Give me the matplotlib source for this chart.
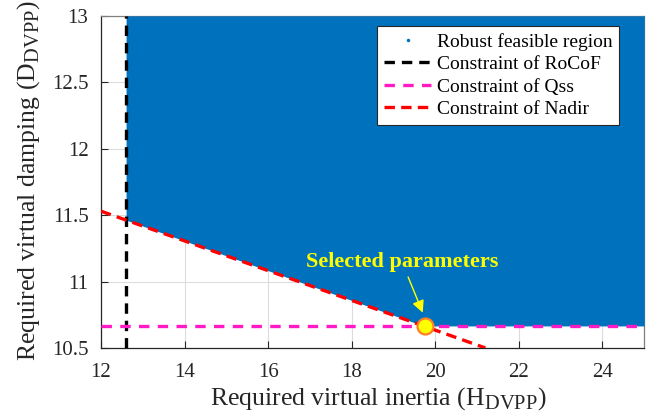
import numpy as np
import matplotlib
matplotlib.use("Agg")
import matplotlib.pyplot as plt
import matplotlib._mathtext as mtext
from matplotlib.lines import Line2D

plt.rcParams['font.family'] = ['Liberation Serif', 'DejaVu Serif']
plt.rcParams['mathtext.fontset'] = 'custom'
plt.rcParams['mathtext.rm'] = 'Liberation Serif'
plt.rcParams['lines.scale_dashes'] = False
# larger, lower subscripts, like the original
mtext.SHRINK_FACTOR = 0.8
mtext.FontConstantsBase.subdrop = 1.0

# constraint data
rocof_h = 12.6                 # RoCoF: minimum inertia
qss_d = 10.666                 # Qss: minimum damping
nadir_h = [12.0, 21.2]         # Nadir line end points (inertia)
nadir_d = [11.53, 10.5]        # Nadir line end points (damping)
sel_h, sel_d = 19.76, 10.666   # selected parameters

h_range = [12, 25]
d_range = [10.5, 13]

# boundary of the robust feasible region
slope = (nadir_d[1] - nadir_d[0]) / (nadir_h[1] - nadir_h[0])
h_feas = np.linspace(rocof_h, h_range[1], 400)
d_low = np.maximum(qss_d, nadir_d[0] + slope * (h_feas - nadir_h[0]))

fig = plt.figure(figsize=(6.58, 4.19), dpi=100)
ax = fig.add_axes([0.1535, 0.1695, 0.8255, 0.7925])

blue = '#0072BD'
ax.fill_between(h_feas, d_low, d_range[1], color=blue, lw=0, zorder=1)

ax.plot([rocof_h, rocof_h], d_range, color='black', lw=2.4, dashes=(7.5, 5), zorder=3)
ax.plot(h_range, [qss_d, qss_d], color='#FF1AC6', lw=2.4, dashes=(7.5, 6), zorder=3)
ax.plot(nadir_h, nadir_d, color='#FF0000', lw=2.4, dashes=(7.5, 4.5), zorder=3)

ax.plot(sel_h, sel_d, 'o', ms=11.5, mfc='#FFFF00', mec='#FF7F27', mew=1.6, zorder=5)
ax.annotate('Selected parameters', xy=(sel_h - 0.06, sel_d + 0.1),
            xytext=(19.2, 11.15), color='#FFFF00', fontsize=16, fontweight='bold',
            ha='center', va='center', zorder=6,
            arrowprops=dict(arrowstyle='-|>', color='#FFFF00', lw=1.0,
                            mutation_scale=18, shrinkA=2, shrinkB=0))

ax.set_xlim(h_range)
ax.set_ylim(d_range)
ax.set_xticks(np.arange(12, 25, 2))
ax.set_yticks([10.5, 11, 11.5, 12, 12.5, 13])
ax.set_yticklabels(['10.5', '11', '11.5', '12', '12.5', '13'])
ax.set_axisbelow(True)
ax.grid(True, color='#DCDCDC', lw=0.8)
ax.tick_params(direction='in', length=5, width=0.8, color='#262626',
               labelcolor='#262626', labelsize=15, top=False, right=False)
ax.tick_params(axis='x', pad=11)
ax.tick_params(axis='y', pad=9)
for s in ax.spines.values():
    s.set_color('#808080')
    s.set_linewidth(0.9)
    s.set_zorder(0.6)
ax.spines['bottom'].set_color('#262626')
ax.spines['left'].set_color('#262626')

ax.set_xlabel(r'Required virtual inertia (H$_{\mathrm{DVPP}}$)', fontsize=18.5,
              color='#262626')
ax.set_ylabel(r'Required virtual damping (D$_{\mathrm{DVPP}}$)', fontsize=18.5,
              color='#262626')
ax.xaxis.set_label_coords(0.51, -0.112)
ax.yaxis.set_label_coords(-0.108, 0.506)

handles = [
    Line2D([], [], ls='none', marker='.', ms=3, color=blue),
    Line2D([], [], color='black', lw=2.4, dashes=(7.5, 5)),
    Line2D([], [], color='#FF1AC6', lw=2.4, dashes=(7.5, 6)),
    Line2D([], [], color='#FF0000', lw=2.4, dashes=(7.5, 4.5)),
]
labels = ['Robust feasible region', 'Constraint of RoCoF',
          'Constraint of Qss', 'Constraint of Nadir']
leg = ax.legend(handles, labels, loc='upper right', bbox_to_anchor=(0.954, 0.97),
                borderaxespad=0, fontsize=14, fancybox=False, framealpha=1,
                edgecolor='#262626', handlelength=2.4, handletextpad=0.3,
                labelspacing=0.25, borderpad=0.35)
leg.get_frame().set_linewidth(0.8)
leg.set_zorder(10)

fig.savefig('out.png', dpi=100)
